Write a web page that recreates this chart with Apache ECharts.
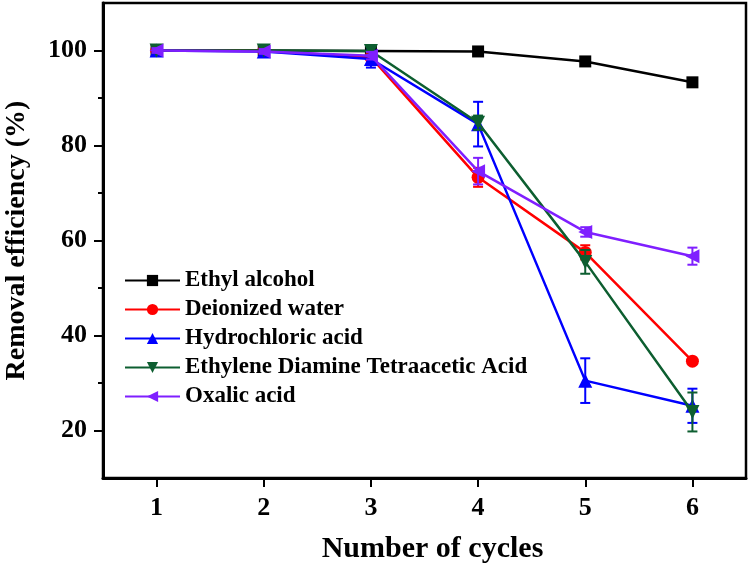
<!DOCTYPE html>
<html>
<head>
<meta charset="utf-8">
<script src="https://cdn.jsdelivr.net/npm/echarts@6/dist/echarts.min.js"></script>
<style>html,body{margin:0;padding:0;background:#fff}#c{width:751px;height:567px}</style>
</head>
<body>
<div id="c"></div>
<script>
var cycles = [1, 2, 3, 4, 5, 6];
var seriesNames = ['Ethyl alcohol', 'Deionized water', 'Hydrochloric acid', 'Ethylene Diamine Tetraacetic Acid', 'Oxalic acid'];
var ethyl = [100, 100, 99.9, 99.8, 97.7, 93.3];
var ethylErr = [0, 0, 0, 0, 0, 0];
var water = [100, 99.9, 98.6, 73.3, 57.5, 34.6];
var waterErr = [0.5, 0.5, 0.8, 2.0, 1.5, 0.5];
var hcl = [100, 99.8, 98.2, 84.5, 30.5, 25.2];
var hclErr = [0.5, 0.5, 1.8, 4.7, 4.7, 3.6];
var edta = [100, 100, 99.9, 84.8, 55.5, 23.9];
var edtaErr = [0.5, 0.5, 0.8, 1.5, 2.5, 4.1];
var oxalic = [100, 99.8, 98.9, 74.6, 61.8, 56.7];
var oxalicErr = [0.5, 0.5, 0.8, 2.8, 1.0, 1.8];
var yMajorTicks = [20, 40, 60, 80, 100];
var yMinorTicks = [30, 50, 70, 90];

var colors = ['#000000', '#ff0000', '#0000ff', '#0d5e30', '#7f1fff'];
var symbols = ['rect', 'circle', 'triangle', 'triangle', 'triangle'];
var symbolRot = [0, 0, 0, 180, 90];
var symbolSizes = [12, 13, 14, 14, 14];
var values = [ethyl, water, hcl, edta, oxalic];
var errs = [ethylErr, waterErr, hclErr, edtaErr, oxalicErr];

var FONT = 'Liberation Serif';
var series = [];
values.forEach(function (vals, i) {
  series.push({
    name: seriesNames[i],
    type: 'line',
    data: cycles.map(function (c, k) { return [c, vals[k]]; }),
    symbol: symbols[i],
    symbolRotate: symbolRot[i],
    symbolSize: symbolSizes[i],
    showAllSymbol: true,
    lineStyle: { color: colors[i], width: 2.5 },
    itemStyle: { color: colors[i] },
    z: 3 + i
  });
  series.push({
    name: seriesNames[i],
    type: 'custom',
    data: cycles.map(function (c, k) { return [c, vals[k] - errs[i][k], vals[k] + errs[i][k]]; }),
    encode: { x: 0, y: [1, 2] },
    z: 3 + i,
    renderItem: function (params, api) {
      var lo = api.coord([api.value(0), api.value(1)]);
      var hi = api.coord([api.value(0), api.value(2)]);
      var w = 5;
      var st = { stroke: colors[i], lineWidth: 2 };
      return {
        type: 'group',
        children: [
          { type: 'line', shape: { x1: lo[0], y1: lo[1], x2: hi[0], y2: hi[1] }, style: st },
          { type: 'line', shape: { x1: lo[0] - w, y1: lo[1], x2: lo[0] + w, y2: lo[1] }, style: st },
          { type: 'line', shape: { x1: hi[0] - w, y1: hi[1], x2: hi[0] + w, y2: hi[1] }, style: st }
        ]
      };
    }
  });
});

var chart = echarts.init(document.getElementById('c'), null, { renderer: 'canvas' });
chart.setOption({
  animation: false,
  backgroundColor: '#fff',
  grid: { left: 103, right: 5, top: 3, bottom: 89, containLabel: false, outerBoundsMode: 'none', show: true, borderColor: '#000', borderWidth: 2.5, backgroundColor: 'transparent' },
  legend: {
    data: seriesNames,
    orient: 'vertical',
    left: 119,
    top: 264,
    itemWidth: 55,
    itemHeight: 14,
    itemGap: 6,
    textStyle: { fontFamily: FONT, fontWeight: 'bold', fontSize: 23, color: '#000' }
  },
  xAxis: {
    type: 'value', min: 0.5, max: 6.5, interval: 0.5,
    name: 'Number of cycles', nameLocation: 'middle', nameGap: 56,
    nameTextStyle: { fontFamily: FONT, fontWeight: 'bold', fontSize: 30, color: '#000', padding: [0, 0, 0, 16] },
    axisLine: { lineStyle: { color: '#000', width: 3 } },
    axisTick: { customValues: cycles, length: 9, lineStyle: { color: '#000', width: 2 } },
    axisLabel: { customValues: cycles, margin: 17, fontFamily: FONT, fontWeight: 'bold', fontSize: 26, color: '#000' },
    splitLine: { show: false }
  },
  yAxis: [{
    type: 'value', min: 10, max: 110, interval: 10,
    name: 'Removal efficiency (%)', nameLocation: 'middle', nameGap: 72,
    nameTextStyle: { fontFamily: FONT, fontWeight: 'bold', fontSize: 28, color: '#000' },
    axisLine: { lineStyle: { color: '#000', width: 3 } },
    axisTick: { customValues: yMajorTicks, length: 9, lineStyle: { color: '#000', width: 2 } },
    axisLabel: { customValues: yMajorTicks, margin: 16, fontFamily: FONT, fontWeight: 'bold', fontSize: 26, color: '#000' },
    splitLine: { show: false }
  }, {
    type: 'value', min: 10, max: 110, interval: 10, position: 'left',
    axisLine: { show: false },
    axisTick: { customValues: yMinorTicks, length: 5, lineStyle: { color: '#000', width: 2 } },
    axisLabel: { show: false },
    splitLine: { show: false }
  }],
  series: series
});
</script>
</body>
</html>
